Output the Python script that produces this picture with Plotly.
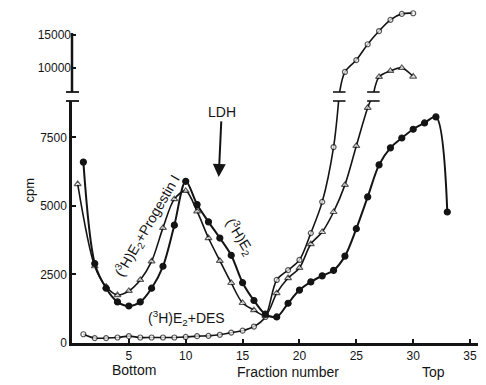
import plotly.graph_objects as go

# ---------------- data ----------------
fraction_e2 = list(range(1, 34))
cpm_e2 = [6600, 2900, 2000, 1500, 1350, 1500, 2000, 2800, 4300, 5900,
          5050, 4420, 3830, 3200, 2200, 1550, 1050, 950, 1450, 1930,
          2230, 2450, 2650, 3170, 4170, 5330, 6500, 7120, 7480, 7800,
          8030, 8250, 4780]

fraction_prog_low = [0.5, 2, 3, 4, 5, 6, 7, 8, 9, 10, 11, 12, 13, 14, 15,
                     16, 17, 18, 19, 20, 21, 22, 23, 24, 25, 26]
cpm_prog_low = [5800, 2800, 2050, 1750, 1900, 2300, 2980, 4200, 5250, 5550,
                4800, 3830, 3000, 2190, 1460, 1200, 1000, 1820, 2370, 2740,
                3610, 4050, 4780, 5770, 7190, 8580]
fraction_prog_high = [27, 28, 29, 30]
cpm_prog_high = [8640, 9550, 10000, 8700]

fraction_des_low = list(range(1, 24))
cpm_des_low = [320, 180, 180, 200, 250, 200, 200, 200, 200, 220, 250, 260,
               300, 380, 450, 600, 950, 2300, 2660, 3030, 4010, 5150, 7150]
fraction_des_high = [24, 25, 26, 27, 28, 29, 30]
cpm_des_high = [9400, 11200, 13600, 15600, 17300, 18200, 18300]

x_ticks = [5, 10, 15, 20, 25, 30, 35]
y_ticks_low = [0, 2500, 5000, 7500]
y_ticks_high = [10000, 15000]

# ---------------- layout constants ----------------
# the page body has an 8px margin, so the figure is sized to fit inside it
W, H = 478, 377
ML, MR, MT, MB = 64, 8, 2, 42
PW = W - ML - MR
PH = H - MT - MB
PAGE_L, PAGE_B = 72, 343       # plot-area left / bottom in window pixels
D1 = (PAGE_B - 101) / PH       # top of lower panel
D2 = (PAGE_B - 92) / PH        # bottom of upper panel
Y1 = [0, 8830]
Y2 = [6360, 18790]
X_RANGE = [0, 35.7]
INK = "#141414"
FONT = "Liberation Sans, Arial, sans-serif"

fig = go.Figure()


def seg_trace(x, y, yaxis, symbol, fill, size, width, sizes=None):
    return go.Scatter(
        x=x, y=y, yaxis=yaxis, mode="lines+markers",
        line=dict(color=INK, width=width, shape="spline", smoothing=0.9),
        marker=dict(symbol=symbol, color=fill, size=sizes if sizes else size,
                    line=dict(color=INK, width=1.2)),
        showlegend=False, hoverinfo="skip")


def broken_series(xl, yl, xh, yh, symbol, fill, size, width):
    bx = (xl[-1] + xh[0]) / 2.0
    low_x = list(xl) + [bx]
    low_y = list(yl) + [Y1[1] * 1.03]
    high_x = [bx] + list(xh)
    high_y = [Y2[0] - 0.03 * (Y2[1] - Y2[0])] + list(yh)
    fig.add_trace(seg_trace(low_x, low_y, "y", symbol, fill, size, width,
                            [size] * len(xl) + [0]))
    fig.add_trace(seg_trace(high_x, high_y, "y2", symbol, fill, size, width,
                            [0] + [size] * len(xh)))
    # break marks on the curve
    for yy in (D1, D2):
        fig.add_shape(type="line", xref="x", yref="paper",
                      x0=bx - 0.55, x1=bx + 0.55, y0=yy, y1=yy,
                      line=dict(color=INK, width=1.6))


# [3H]E2 + DES (open circles)
broken_series(fraction_des_low, cpm_des_low, fraction_des_high, cpm_des_high,
              "circle", "white", 5, 1.6)
# [3H]E2 + Progestin I (open triangles)
broken_series(fraction_prog_low, cpm_prog_low, fraction_prog_high, cpm_prog_high,
              "triangle-up", "white", 6, 1.6)
# [3H]E2 (filled circles)
fig.add_trace(seg_trace(fraction_e2, cpm_e2, "y", "circle", INK, 6, 2.0))

# ---------------- axes ----------------
tickfont = dict(family=FONT, size=12, color=INK)
fig.update_layout(
    width=W, height=H,
    margin=dict(l=ML, r=MR, t=MT, b=MB),
    paper_bgcolor="white", plot_bgcolor="white",
    xaxis=dict(range=X_RANGE, tickvals=x_ticks, ticks="inside", ticklen=4,
               tickwidth=1.5, tickcolor=INK, showline=True, linecolor=INK,
               linewidth=2.5, showgrid=False, zeroline=False, tickfont=tickfont,
               anchor="y"),
    yaxis=dict(domain=[0, D1], range=Y1, tickvals=y_ticks_low,
               ticktext=[str(v) for v in y_ticks_low],
               ticks="inside", ticklen=4, tickwidth=1.5, tickcolor=INK,
               showline=True, linecolor=INK, linewidth=2.5, showgrid=False,
               zeroline=False, tickfont=tickfont),
    yaxis2=dict(domain=[D2, 1], range=Y2, tickvals=y_ticks_high,
                ticktext=[str(v) for v in y_ticks_high],
                ticks="inside", ticklen=4, tickwidth=1.5, tickcolor=INK,
                showline=False, showgrid=False, zeroline=False,
                tickfont=tickfont, anchor="x"),
)

# upper axis line segment and axis break marks
y_top_line = D2 + (15300 - Y2[0]) / (Y2[1] - Y2[0]) * (1 - D2)
fig.add_shape(type="line", xref="paper", yref="paper", x0=0, x1=0,
              y0=D2, y1=y_top_line, line=dict(color=INK, width=2.5))
for yy in (D1, D2):
    fig.add_shape(type="line", xref="paper", yref="paper",
                  x0=-6 / PW, x1=7 / PW, y0=yy, y1=yy,
                  line=dict(color=INK, width=1.8))

# ---------------- text ----------------
lab = dict(family=FONT, size=14, color=INK)


def px_x(page_x):
    return (page_x - PAGE_L) / PW


fig.add_annotation(x=12.9, y=6060, xref="x", yref="y", text="LDH",
                   showarrow=True, ax=3, ay=-65, arrowhead=2, arrowsize=1.3,
                   arrowwidth=2, arrowcolor=INK, font=lab)
fig.add_annotation(x=6.6, y=4270, xref="x", yref="y",
                   text="(<sup>3</sup>H)E<sub>2</sub>+Progestin I",
                   textangle=-60, showarrow=False, font=lab)
fig.add_annotation(x=14.8, y=3870, xref="x", yref="y",
                   text="(<sup>3</sup>H)E<sub>2</sub>",
                   textangle=58, showarrow=False, font=lab)
fig.add_annotation(x=10.1, y=900, xref="x", yref="y",
                   text="(<sup>3</sup>H)E<sub>2</sub>+DES",
                   showarrow=False, font=lab)
fig.add_annotation(x=px_x(110), y=0, xref="paper", yref="paper",
                   yanchor="middle", yshift=-27, text="Bottom",
                   showarrow=False, font=lab)
fig.add_annotation(x=px_x(288), y=0, xref="paper", yref="paper",
                   yanchor="middle", yshift=-29, text="Fraction number",
                   showarrow=False, font=lab)
fig.add_annotation(x=px_x(447), y=0, xref="paper", yref="paper",
                   yanchor="middle", yshift=-29, text="Top",
                   showarrow=False, font=lab)
fig.add_annotation(x=px_x(19), y=(PAGE_B - 190) / PH, xref="paper",
                   yref="paper", text="cpm", textangle=-90, showarrow=False,
                   font=dict(family=FONT, size=13, color=INK))

fig.write_html("out.html")
